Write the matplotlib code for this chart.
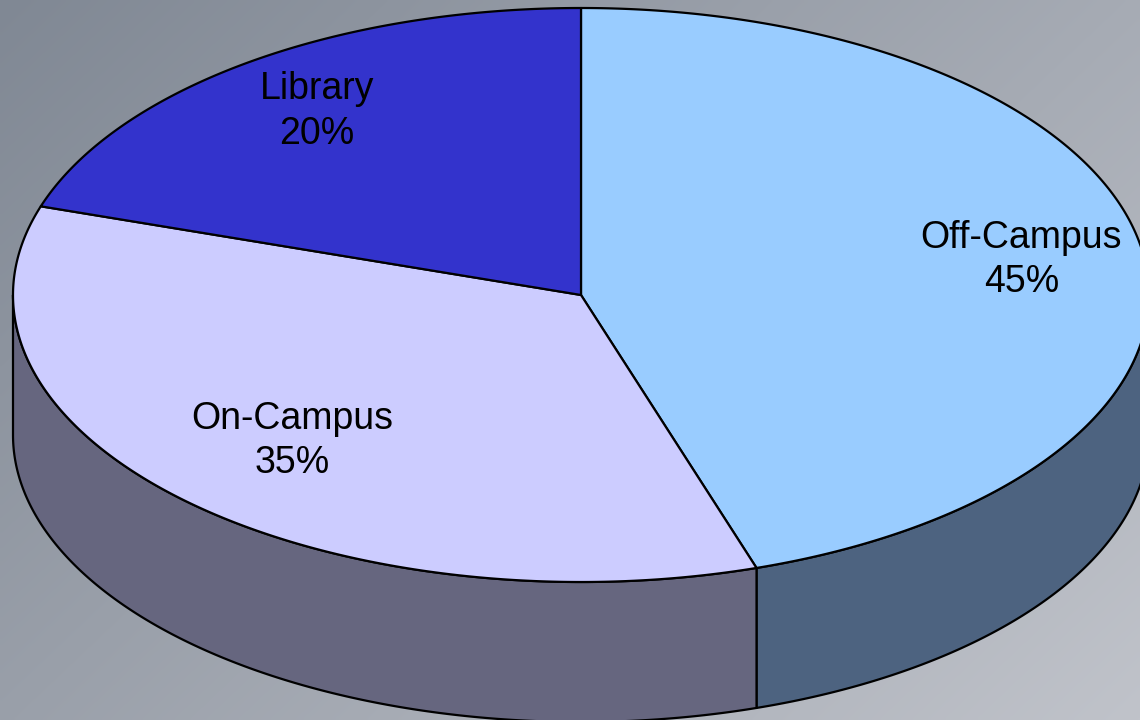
import numpy as np
import matplotlib.pyplot as plt
from matplotlib.patches import Polygon

# Study location shares
categories = ["Off-Campus", "On-Campus", "Library"]
shares = [45, 35, 20]
top_colors = ["#99ccff", "#ccccff", "#3333cc"]
side_colors = ["#4d6380", "#66667f", "#26267f"]
label_r = [0.785, 0.72, 0.79]

plt.rcParams['font.family'] = ['Liberation Sans', 'DejaVu Sans']

W, H = 1140, 720
fig = plt.figure(figsize=(W / 100, H / 100), dpi=100)
ax = fig.add_axes([0, 0, 1, 1])
ax.set_xlim(0, W)
ax.set_ylim(H, 0)
ax.axis('off')

# diagonal grey gradient background
gx, gy = np.meshgrid(np.linspace(0, 1, 300), np.linspace(0, 1, 200))
t = (gx * 0.6 + gy * 0.4)
c0 = np.array([0x80, 0x88, 0x94]) / 255
c1 = np.array([0xc0, 0xc3, 0xca]) / 255
img = c0[None, None, :] * (1 - t[..., None]) + c1[None, None, :] * t[..., None]
ax.imshow(img, extent=(0, W, H, 0), aspect='auto', zorder=0, interpolation='bilinear')

# pie geometry (ellipse seen in perspective, with a thickness)
cx, cy = 581, 295
a, b = 568, 287
depth = 140

def pt(theta_deg, dy=0.0):
    th = np.radians(theta_deg)
    return cx + a * np.cos(th), cy - b * np.sin(th) + dy

total = float(sum(shares))
start = 90.0
spans = []
for v in shares:
    end = start - 360.0 * v / total
    spans.append((start, end))
    start = end

# side walls: only the front half (angles between 180 and 360) is visible
for (s, e), col in zip(spans, side_colors):
    lo, hi = min(s, e), max(s, e)
    f_lo, f_hi = max(lo, -180.0), min(hi, 0.0)
    if f_lo >= f_hi:
        continue
    th = np.linspace(f_hi, f_lo, 200)
    xs, ys = pt(th)
    xb, yb = pt(th[::-1], depth)
    poly = np.column_stack([np.concatenate([xs, xb]), np.concatenate([ys, yb])])
    ax.add_patch(Polygon(poly, closed=True, facecolor=col, edgecolor='black',
                         linewidth=1.6, joinstyle='round', zorder=2))

# top faces
for (s, e), col in zip(spans, top_colors):
    th = np.linspace(s, e, 300)
    xs, ys = pt(th)
    poly = np.column_stack([np.concatenate([[cx], xs]), np.concatenate([[cy], ys])])
    ax.add_patch(Polygon(poly, closed=True, facecolor=col, edgecolor='black',
                         linewidth=1.6, joinstyle='round', zorder=3))

# labels
for (s, e), name, v, r in zip(spans, categories, shares, label_r):
    mid = np.radians((s + e) / 2)
    lx = cx + a * r * np.cos(mid)
    ly = cy - b * r * np.sin(mid)
    ax.text(lx, ly, f"{name}\n{v}%", ha='center', va='center', fontsize=27,
            linespacing=1.3, color='black', zorder=4)

fig.savefig("out.png", dpi=100)
